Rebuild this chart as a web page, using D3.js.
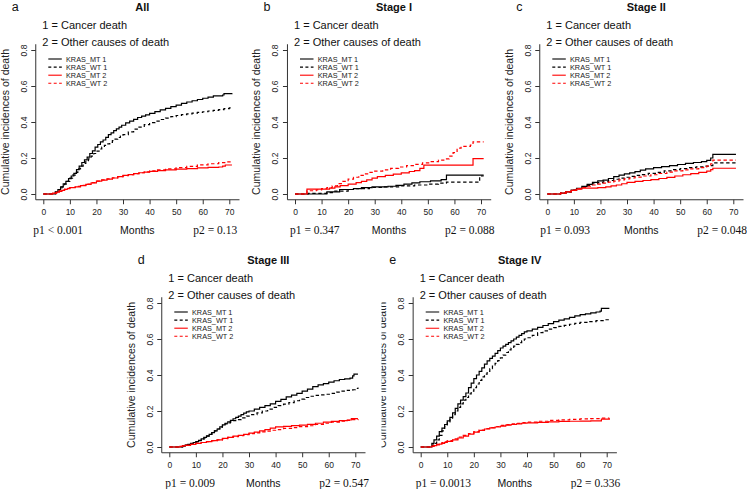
<!DOCTYPE html>
<html>
<head>
<meta charset="utf-8">
<script src="https://cdn.jsdelivr.net/npm/d3@7"></script>
<style>
html,body{margin:0;padding:0;background:#fff;}
svg{display:block;}
</style>
</head>
<body>
<svg id="chart" width="747" height="489"></svg>
<script>
// ---------------- DATA ----------------
const panelLetters = ["a", "b", "c", "d", "e"];
const panelTitles = ["All", "Stage I", "Stage II", "Stage III", "Stage IV"];
const p1Labels = ["p1 < 0.001", "p1 = 0.347", "p1 = 0.093", "p1 = 0.009", "p1 = 0.0013"];
const p2Labels = ["p2 = 0.13", "p2 = 0.088", "p2 = 0.048", "p2 = 0.547", "p2 = 0.336"];
const causeLines = ["1 = Cancer death", "2 = Other causes of death"];
const legendLabels = ["KRAS_MT 1", "KRAS_WT 1", "KRAS_MT 2", "KRAS_WT 2"];
const xTicks = [0, 10, 20, 30, 40, 50, 60, 70];
const yTicks = [0.0, 0.2, 0.4, 0.6, 0.8];
const xLabel = "Months";
const yLabel = "Cumulative incidences of death";

// series: [month, cumulative incidence]
const allMT1 = [[0,0],[4.4,0],[4.5,0.012],[5.5,0.025],[6.5,0.04],[7.5,0.057],[8.5,0.07],[9.5,0.085],[10.5,0.1],[11.5,0.115],[12.5,0.135],[13.5,0.155],[14.5,0.175],[15.5,0.19],[16.5,0.205],[17.5,0.225],[18.5,0.24],[19.5,0.26],[20.5,0.275],[21.5,0.29],[22.5,0.3],[23.5,0.315],[24.5,0.33],[25.5,0.34],[26.5,0.352],[27.5,0.362],[28.5,0.372],[29.5,0.382],[31,0.395],[32.5,0.405],[34,0.415],[35.5,0.425],[37,0.433],[38.5,0.44],[40,0.448],[42,0.458],[44,0.467],[46,0.476],[48,0.485],[50,0.494],[52,0.503],[54,0.511],[56,0.518],[58,0.525],[60,0.532],[62,0.538],[64,0.545],[67.5,0.55],[68,0.558],[71,0.56]];
const allWT1 = [[0,0],[4.6,0],[4.7,0.01],[6,0.025],[7,0.04],[8,0.055],[9,0.07],[10,0.088],[11,0.105],[12,0.12],[13,0.14],[14,0.155],[15,0.17],[16,0.185],[17,0.195],[18,0.21],[19,0.225],[20,0.238],[21,0.25],[22,0.26],[23,0.27],[24,0.278],[25,0.287],[26,0.296],[27,0.305],[28,0.314],[29,0.322],[30,0.33],[32,0.345],[34,0.36],[36,0.372],[38,0.385],[40,0.396],[42,0.405],[44,0.414],[46,0.422],[48,0.43],[50,0.436],[52,0.441],[54,0.445],[56,0.449],[58,0.453],[60,0.457],[62,0.461],[64,0.465],[66,0.469],[68,0.474],[70,0.478],[71,0.48]];
const allMT2 = [[0,0],[3,0],[3.5,0.005],[5,0.01],[6,0.015],[7,0.02],[8,0.025],[9,0.03],[10,0.035],[12,0.04],[14,0.047],[16,0.053],[18,0.062],[20,0.071],[22,0.077],[24,0.083],[26,0.089],[28,0.096],[30,0.103],[32,0.108],[34,0.113],[36,0.118],[38,0.122],[40,0.126],[43,0.13],[46,0.134],[50,0.138],[54,0.141],[58,0.145],[62,0.148],[66,0.15],[67.5,0.155],[68.5,0.161],[71,0.161]];
const allWT2 = [[0,0],[3,0],[3.5,0.005],[5,0.012],[6,0.017],[7,0.022],[8,0.027],[9,0.032],[10,0.036],[12,0.042],[14,0.048],[16,0.055],[18,0.063],[20,0.071],[22,0.078],[24,0.084],[26,0.09],[28,0.096],[30,0.102],[32,0.108],[34,0.113],[36,0.118],[38,0.123],[40,0.128],[43,0.134],[46,0.14],[50,0.146],[54,0.153],[58,0.162],[62,0.168],[66,0.174],[69,0.178],[71,0.18]];

const s1MT1 = [[0,0],[11.8,0],[12,0.012],[16.8,0.025],[22,0.03],[25,0.035],[29,0.04],[35,0.043],[38,0.048],[41,0.055],[44,0.062],[47,0.068],[51,0.073],[55,0.08],[57,0.105],[71,0.105]];
const s1WT1 = [[0,0],[5,0.004],[12,0.008],[15,0.016],[20,0.025],[23,0.03],[28,0.036],[33,0.04],[40,0.045],[45,0.05],[50,0.055],[54,0.06],[57,0.066],[69.5,0.1],[71,0.1]];
const s1MT2 = [[0,0],[4.5,0.027],[13,0.033],[15,0.04],[17,0.047],[20,0.055],[23,0.063],[25,0.07],[27,0.078],[29,0.088],[31,0.097],[34,0.103],[37,0.11],[40,0.117],[43,0.125],[45,0.13],[47,0.142],[48.5,0.16],[67,0.197],[71,0.197]];
const s1WT2 = [[0,0],[4.5,0.018],[8,0.023],[10,0.03],[12,0.035],[14,0.045],[16,0.058],[18,0.07],[20,0.083],[22,0.093],[24,0.103],[26,0.112],[28,0.12],[30,0.127],[33,0.134],[36,0.142],[39,0.15],[42,0.158],[45,0.165],[48,0.173],[51,0.18],[54,0.188],[56,0.195],[58,0.21],[59.5,0.23],[61,0.255],[62.5,0.265],[66,0.272],[67,0.29],[71,0.29]];

const s2MT1 = [[0,0],[4.5,0],[5,0.005],[7,0.012],[9,0.022],[11,0.032],[13,0.042],[15,0.053],[17,0.065],[19,0.073],[21,0.077],[23,0.086],[25,0.096],[27,0.105],[29,0.112],[31,0.117],[33,0.124],[35,0.133],[37,0.14],[40,0.146],[43,0.152],[46,0.158],[49,0.164],[52,0.17],[55,0.175],[58,0.18],[60,0.187],[61.5,0.2],[62.3,0.22],[71,0.22]];
const s2WT1 = [[0,0],[4.5,0],[5,0.005],[7,0.012],[9,0.022],[11,0.03],[13,0.04],[15,0.048],[17,0.057],[19,0.063],[21,0.068],[23,0.075],[25,0.082],[27,0.088],[29,0.093],[31,0.098],[33,0.103],[35,0.108],[38,0.115],[41,0.12],[44,0.128],[47,0.135],[50,0.141],[53,0.146],[56,0.151],[59,0.155],[61,0.158],[62.3,0.173],[71,0.173]];
const s2MT2 = [[0,0],[5,0.005],[7,0.012],[9,0.02],[11,0.027],[13,0.033],[19,0.035],[22,0.04],[24,0.045],[26,0.05],[28,0.057],[30,0.065],[33,0.07],[36,0.075],[39,0.08],[42,0.086],[45,0.092],[48,0.1],[51,0.107],[54,0.113],[57,0.12],[60,0.127],[61.5,0.135],[62.3,0.143],[71,0.143]];
const s2WT2 = [[0,0],[5,0.005],[7,0.013],[9,0.022],[11,0.03],[13,0.036],[15,0.043],[17,0.05],[19,0.055],[21,0.06],[23,0.066],[25,0.072],[27,0.078],[29,0.084],[31,0.089],[33,0.094],[36,0.1],[39,0.107],[42,0.114],[45,0.121],[48,0.128],[51,0.134],[54,0.14],[57,0.147],[60,0.155],[61.5,0.168],[62.3,0.188],[71,0.188]];

const s3MT1 = [[0,0],[4,0],[5,0.005],[6,0.01],[7,0.015],[8,0.02],[9,0.025],[10,0.03],[11,0.037],[12,0.045],[13,0.053],[14,0.062],[15,0.07],[16,0.08],[17,0.09],[18,0.1],[19,0.112],[20,0.123],[21,0.132],[22,0.14],[23,0.148],[24,0.157],[25,0.165],[26,0.172],[27,0.18],[28,0.188],[29,0.195],[30,0.2],[32,0.21],[34,0.22],[36,0.23],[38,0.24],[40,0.253],[42,0.265],[44,0.278],[46,0.288],[48,0.298],[50,0.31],[52,0.322],[54,0.335],[56,0.345],[58,0.352],[60,0.36],[62,0.368],[64,0.375],[66,0.378],[68,0.383],[69,0.395],[69.5,0.405],[71,0.405]];
const s3WT1 = [[0,0],[4,0],[5,0.005],[6,0.01],[7,0.013],[8,0.017],[9,0.022],[10,0.028],[11,0.035],[12,0.042],[13,0.05],[14,0.06],[15,0.07],[16,0.08],[17,0.09],[18,0.1],[19,0.11],[20,0.12],[21,0.128],[22,0.134],[23,0.14],[24,0.146],[25,0.152],[27,0.162],[29,0.172],[31,0.18],[33,0.19],[35,0.2],[37,0.21],[39,0.22],[41,0.23],[43,0.238],[45,0.247],[47,0.257],[49,0.266],[51,0.275],[53,0.282],[55,0.287],[57,0.29],[59,0.293],[61,0.298],[63,0.305],[65,0.31],[67,0.315],[69,0.318],[70,0.325],[71,0.33]];
const s3MT2 = [[0,0],[3,0],[4,0.003],[5,0.006],[6,0.009],[8,0.015],[10,0.02],[12,0.025],[14,0.03],[16,0.035],[18,0.04],[20,0.048],[22,0.054],[24,0.06],[26,0.065],[28,0.07],[30,0.077],[32,0.083],[34,0.09],[36,0.097],[38,0.105],[40,0.112],[43,0.115],[46,0.119],[49,0.122],[52,0.126],[55,0.132],[58,0.138],[61,0.142],[64,0.146],[67,0.15],[68.5,0.158],[71,0.158]];
const s3WT2 = [[0,0],[3,0],[4,0.003],[5,0.006],[6,0.009],[8,0.015],[10,0.02],[12,0.025],[14,0.03],[16,0.035],[18,0.04],[20,0.047],[22,0.053],[24,0.058],[26,0.063],[28,0.068],[30,0.074],[32,0.079],[34,0.084],[36,0.088],[38,0.093],[40,0.097],[43,0.103],[46,0.108],[49,0.113],[52,0.118],[55,0.125],[58,0.132],[61,0.138],[64,0.143],[67,0.148],[69,0.152],[71,0.155]];

const s4MT1 = [[0,0],[4,0],[4.2,0.02],[5,0.04],[6,0.06],[7,0.085],[8,0.105],[9,0.125],[10,0.145],[11,0.165],[12,0.19],[13,0.215],[14,0.24],[15,0.26],[16,0.28],[17,0.3],[18,0.33],[19,0.355],[20,0.38],[21,0.4],[22,0.42],[23,0.44],[24,0.46],[25,0.478],[26,0.492],[27,0.505],[28,0.52],[29,0.535],[30,0.55],[31,0.56],[32,0.57],[33,0.58],[34,0.59],[35,0.6],[36,0.61],[37,0.62],[38,0.63],[39,0.64],[40,0.645],[42,0.655],[44,0.665],[46,0.675],[48,0.685],[50,0.697],[52,0.705],[54,0.712],[56,0.72],[58,0.728],[60,0.735],[62,0.74],[64,0.745],[66,0.75],[67.5,0.755],[68,0.77],[71,0.77]];
const s4WT1 = [[0,0],[4,0],[4.5,0.01],[5,0.02],[6,0.04],[7,0.065],[8,0.09],[9,0.115],[10,0.14],[11,0.16],[12,0.18],[13,0.2],[14,0.22],[15,0.24],[16,0.26],[17,0.275],[18,0.295],[19,0.31],[20,0.33],[21,0.35],[22,0.37],[23,0.39],[24,0.405],[25,0.42],[26,0.435],[27,0.45],[28,0.465],[29,0.48],[30,0.495],[31,0.51],[32,0.525],[33,0.54],[34,0.55],[35,0.56],[36,0.57],[37,0.58],[38,0.59],[39,0.6],[40,0.607],[42,0.62],[44,0.635],[46,0.645],[48,0.655],[50,0.663],[52,0.67],[54,0.676],[56,0.682],[58,0.687],[60,0.692],[63,0.697],[66,0.702],[69,0.707],[71,0.71]];
const s4MT2 = [[0,0],[4,0],[4.2,0.004],[5,0.008],[6,0.012],[7,0.016],[8,0.02],[9,0.026],[10,0.031],[12,0.04],[14,0.05],[16,0.06],[18,0.072],[20,0.083],[22,0.092],[24,0.1],[26,0.106],[28,0.111],[30,0.116],[32,0.121],[34,0.125],[36,0.129],[38,0.132],[40,0.134],[44,0.137],[48,0.14],[52,0.142],[56,0.143],[60,0.144],[64,0.145],[67.5,0.145],[68,0.155],[71,0.157]];
const s4WT2 = [[0,0],[4,0],[4.2,0.005],[5,0.01],[6,0.015],[7,0.02],[8,0.025],[9,0.03],[10,0.035],[12,0.045],[14,0.055],[16,0.065],[18,0.075],[20,0.085],[22,0.094],[24,0.102],[26,0.108],[28,0.114],[30,0.12],[32,0.124],[34,0.128],[36,0.131],[38,0.135],[40,0.138],[44,0.143],[48,0.148],[52,0.151],[56,0.154],[60,0.156],[64,0.158],[68,0.16],[71,0.161]];

const panelSeries = [
  [allMT1, allWT1, allMT2, allWT2],
  [s1MT1, s1WT1, s1MT2, s1WT2],
  [s2MT1, s2WT1, s2MT2, s2WT2],
  [s3MT1, s3WT1, s3MT2, s3WT2],
  [s4MT1, s4WT1, s4MT2, s4WT2]
];

// ---------------- LAYOUT / STYLE ----------------
const seriesStyle = [
  {color: "#000", dash: null},
  {color: "#000", dash: "3.4,2.6"},
  {color: "#ff0000", dash: null},
  {color: "#ff0000", dash: "3.4,2.6"}
];
// origin (month 0, value 0) pixel of each panel; clipLeft = left edge of the panel image
const layout = [
  {x0: 43.3, y0: 194, p1dx: -10, clipLeft: 0},
  {x0: 295, y0: 194, p1dx: -5, clipLeft: 248},
  {x0: 547.3, y0: 194, p1dx: -7, clipLeft: 498},
  {x0: 169.3, y0: 447, p1dx: -4, clipLeft: 120},
  {x0: 420.7, y0: 447, p1dx: -5, clipLeft: 381.5}
];
const W = 186;   // px for 70 months
const H = 144;   // px for 0.8
const SANS = "'Liberation Sans', Arial, Helvetica, sans-serif";
const SERIF = "'Liberation Serif', 'Times New Roman', serif";

const svg = d3.select("#chart");
const defs = svg.append("defs");

layout.forEach((L, i) => {
  defs.append("clipPath").attr("id", "clip" + i)
    .append("rect").attr("x", L.clipLeft).attr("y", 0).attr("width", 747).attr("height", 489);
  const g = svg.append("g").attr("clip-path", `url(#clip${i})`);
  const x = d3.scaleLinear().domain([0, 70]).range([L.x0, L.x0 + W]);
  const y = d3.scaleLinear().domain([0, 0.8]).range([L.y0, L.y0 - H]);
  const xMin = x(-2.84), xMax = x(73.84);
  const yBot = y(-0.032), yTop = y(0.832);

  // L-shaped frame
  g.append("path")
    .attr("d", `M${xMin},${yTop}L${xMin},${yBot}L${xMax},${yBot}`)
    .attr("fill", "none").attr("stroke", "#333").attr("stroke-width", 1);

  // x axis ticks
  const xa = g.append("g").attr("transform", `translate(0,${yBot})`)
    .call(d3.axisBottom(x).tickValues(xTicks).tickSize(4.5).tickPadding(5).tickFormat(d3.format("d")));
  xa.select(".domain").remove();
  xa.selectAll("line").attr("stroke", "#333");
  xa.selectAll("text").attr("font-family", SANS).attr("font-size", "8.5px").attr("fill", "#222");

  // y axis ticks
  const ya = g.append("g").attr("transform", `translate(${xMin},0)`)
    .call(d3.axisLeft(y).tickValues(yTicks).tickSize(4.5).tickFormat(d3.format(".1f")));
  ya.select(".domain").remove();
  ya.selectAll("line").attr("stroke", "#333");
  ya.selectAll("text")
    .attr("font-family", SANS).attr("font-size", "8.5px").attr("fill", "#222")
    .attr("text-anchor", "middle").attr("dy", null).attr("x", null)
    .attr("dominant-baseline", "central")
    .attr("transform", "translate(-12,0) rotate(-90)");

  // y axis title
  g.append("text")
    .attr("transform", `translate(${xMin - 31},${(yTop + yBot) / 2}) rotate(-90)`)
    .attr("text-anchor", "middle").attr("dominant-baseline", "central")
    .attr("font-family", SANS).attr("font-size", "10.5px").attr("fill", "#222")
    .text(yLabel);

  // curves
  const line = d3.line().x(d => x(d[0])).y(d => y(d[1])).curve(d3.curveStepAfter);
  panelSeries[i].forEach((s, k) => {
    g.append("path").datum(s)
      .attr("d", line)
      .attr("fill", "none")
      .attr("stroke", seriesStyle[k].color)
      .attr("stroke-width", 1.2)
      .attr("stroke-dasharray", seriesStyle[k].dash);
  });

  // legend
  legendLabels.forEach((lab, k) => {
    const ly = L.y0 - 135 + k * 8.1;
    g.append("line")
      .attr("x1", L.x0 + 5).attr("x2", L.x0 + 18.5)
      .attr("y1", ly).attr("y2", ly)
      .attr("stroke", seriesStyle[k].color).attr("stroke-width", 1.1)
      .attr("stroke-dasharray", seriesStyle[k].dash ? "3,2.4" : null);
    g.append("text")
      .attr("x", L.x0 + 22.7).attr("y", ly)
      .attr("dominant-baseline", "central")
      .attr("font-family", SANS).attr("font-size", "7.3px").attr("fill", "#222")
      .text(lab);
  });

  // panel letter & title
  g.append("text")
    .attr("x", L.x0 - 28).attr("y", L.y0 - 187)
    .attr("text-anchor", "middle").attr("dominant-baseline", "central")
    .attr("font-family", SANS).attr("font-size", "12.5px").attr("fill", "#111")
    .text(panelLetters[i]);
  g.append("text")
    .attr("x", L.x0 + 99).attr("y", L.y0 - 187)
    .attr("text-anchor", "middle").attr("dominant-baseline", "central")
    .attr("font-family", SANS).attr("font-size", "11px").attr("font-weight", "bold").attr("fill", "#111")
    .text(panelTitles[i]);

  // cause lines
  causeLines.forEach((t, k) => {
    g.append("text")
      .attr("x", L.x0 - 1).attr("y", L.y0 - 169 + k * 17)
      .attr("dominant-baseline", "central")
      .attr("font-family", SANS).attr("font-size", "11px").attr("fill", "#111")
      .text(t);
  });

  // bottom texts
  g.append("text")
    .attr("x", L.x0 + L.p1dx).attr("y", L.y0 + 36)
    .attr("dominant-baseline", "central")
    .attr("font-family", SERIF).attr("font-size", "11.5px").attr("fill", "#111")
    .text(p1Labels[i]);
  g.append("text")
    .attr("x", L.x0 + 94).attr("y", L.y0 + 36)
    .attr("text-anchor", "middle").attr("dominant-baseline", "central")
    .attr("font-family", SANS).attr("font-size", "10.5px").attr("fill", "#111")
    .text(xLabel);
  g.append("text")
    .attr("x", L.x0 + 150).attr("y", L.y0 + 36)
    .attr("dominant-baseline", "central")
    .attr("font-family", SERIF).attr("font-size", "11.5px").attr("fill", "#111")
    .text(p2Labels[i]);
});
</script>
</body>
</html>
